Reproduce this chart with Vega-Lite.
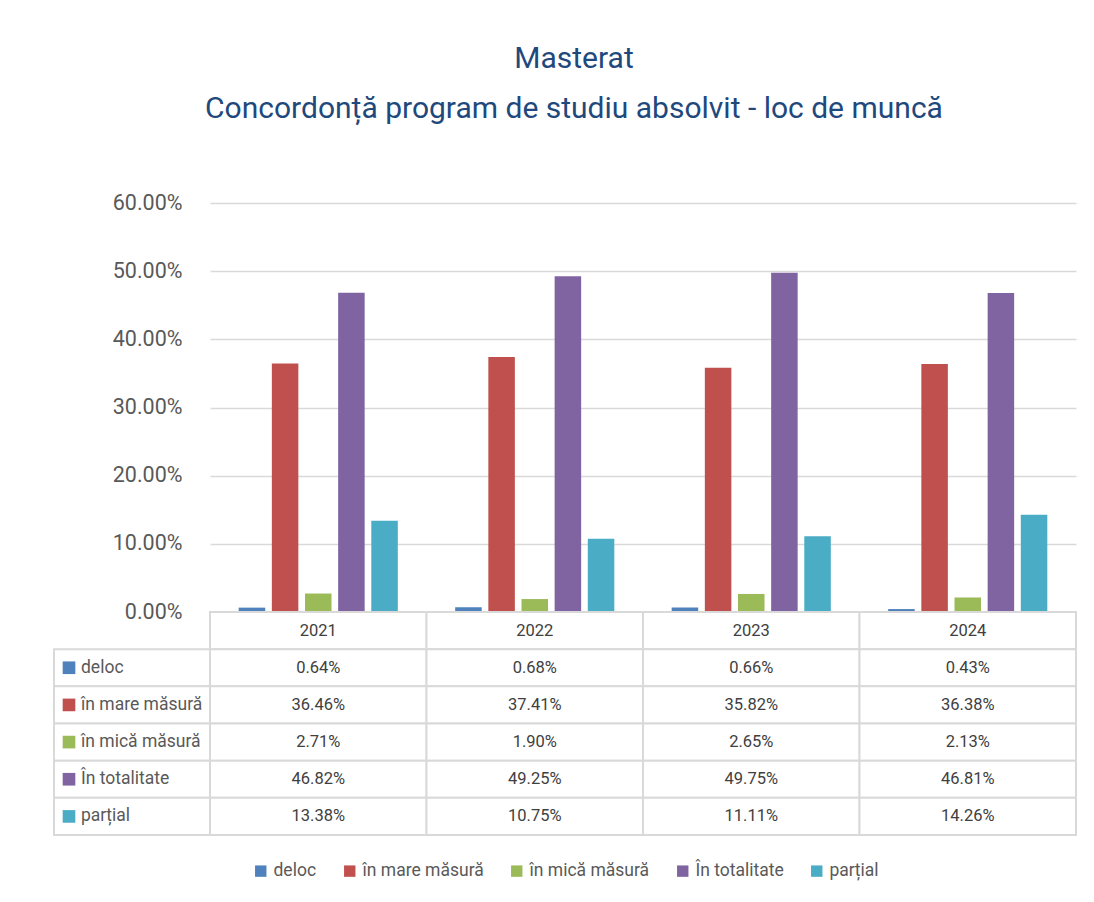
{
  "$schema": "https://vega.github.io/schema/vega-lite/v6.json",
  "background": "white",
  "padding": {"left": 53, "top": 44, "right": 16, "bottom": 10},
  "title": {
    "text": ["Masterat", "Concordonță program de studiu absolvit - loc de muncă"],
    "font": "Roboto",
    "fontSize": 30,
    "fontWeight": "normal",
    "color": "#1F497D",
    "lineHeight": 50,
    "anchor": "middle",
    "dx": 9,
    "offset": 68
  },
  "datasets": {
    "values": [
      {"year": "2021", "series": "deloc", "value": 0.0064},
      {"year": "2021", "series": "în mare măsură", "value": 0.3646},
      {"year": "2021", "series": "în mică măsură", "value": 0.0271},
      {"year": "2021", "series": "În totalitate", "value": 0.4682},
      {"year": "2021", "series": "parțial", "value": 0.1338},
      {"year": "2022", "series": "deloc", "value": 0.0068},
      {"year": "2022", "series": "în mare măsură", "value": 0.3741},
      {"year": "2022", "series": "în mică măsură", "value": 0.019},
      {"year": "2022", "series": "În totalitate", "value": 0.4925},
      {"year": "2022", "series": "parțial", "value": 0.1075},
      {"year": "2023", "series": "deloc", "value": 0.0066},
      {"year": "2023", "series": "în mare măsură", "value": 0.3582},
      {"year": "2023", "series": "în mică măsură", "value": 0.0265},
      {"year": "2023", "series": "În totalitate", "value": 0.4975},
      {"year": "2023", "series": "parțial", "value": 0.1111},
      {"year": "2024", "series": "deloc", "value": 0.0043},
      {"year": "2024", "series": "în mare măsură", "value": 0.3638},
      {"year": "2024", "series": "în mică măsură", "value": 0.0213},
      {"year": "2024", "series": "În totalitate", "value": 0.4681},
      {"year": "2024", "series": "parțial", "value": 0.1426}
    ],
    "years": [
      {"year": "2021"},
      {"year": "2022"},
      {"year": "2023"},
      {"year": "2024"}
    ],
    "series": [
      {"series": "deloc"},
      {"series": "în mare măsură"},
      {"series": "în mică măsură"},
      {"series": "În totalitate"},
      {"series": "parțial"}
    ]
  },
  "columns": 2,
  "spacing": 0,
  "bounds": "flush",
  "concat": [
    {
      "width": 156,
      "height": 409,
      "data": {"values": []},
      "mark": "point",
      "encoding": {}
    },
    {
      "width": 866,
      "height": 409,
      "data": {"name": "values"},
      "mark": {"type": "bar"},
      "encoding": {
        "x": {
          "field": "year",
          "type": "nominal",
          "scale": {"paddingInner": 0.265, "paddingOuter": 0.1325},
          "axis": null
        },
        "xOffset": {
          "field": "series",
          "type": "nominal",
          "sort": ["deloc", "în mare măsură", "în mică măsură", "În totalitate", "parțial"],
          "scale": {"paddingInner": 0.2, "paddingOuter": 0}
        },
        "y": {
          "field": "value",
          "type": "quantitative",
          "scale": {"domain": [0, 0.6], "nice": false},
          "axis": {
            "values": [0, 0.1, 0.2, 0.3, 0.4, 0.5, 0.6],
            "format": ".2%",
            "domain": false,
            "ticks": false,
            "tickSize": 0,
            "labelPadding": 28,
            "labelFontSize": 21.5,
            "labelColor": "#595959",
            "gridColor": "#D9D9D9",
            "gridWidth": 1.5,
            "title": null
          }
        },
        "color": {
          "field": "series",
          "type": "nominal",
          "sort": ["deloc", "în mare măsură", "în mică măsură", "În totalitate", "parțial"],
          "scale": {
            "domain": ["deloc", "în mare măsură", "în mică măsură", "În totalitate", "parțial"],
            "range": ["#4F81BD", "#C0504D", "#9BBB59", "#8064A2", "#4BACC6"]
          },
          "legend": {
            "orient": "bottom",
            "direction": "horizontal",
            "title": null,
            "symbolType": "square",
            "symbolSize": 130,
            "symbolStrokeWidth": 0,
            "labelFontSize": 17.5,
            "labelColor": "#595959",
            "labelOffset": 4,
            "columnPadding": 24,
            "offset": 26
          }
        }
      }
    },
    {
      "width": 156,
      "height": 223,
      "data": {"name": "series"},
      "encoding": {
        "y": {
          "field": "series",
          "type": "nominal",
          "scale": {
            "domain": ["anul", "deloc", "în mare măsură", "în mică măsură", "În totalitate", "parțial"],
            "paddingInner": 0,
            "paddingOuter": 0
          },
          "axis": null
        }
      },
      "layer": [
        {
          "mark": {"type": "rect", "fill": "white", "stroke": "#D9D9D9", "strokeWidth": 2}
        },
        {
          "mark": {"type": "point", "shape": "square", "filled": true, "size": 160, "opacity": 1},
          "encoding": {
            "x": {
              "datum": "key",
              "type": "nominal",
              "scale": {"type": "point", "domain": ["key", "label"], "range": [15, 27], "padding": 0},
              "axis": null
            },
            "color": {
              "field": "series",
              "type": "nominal"
            }
          }
        },
        {
          "mark": {"type": "text", "align": "left", "fontSize": 17.5, "color": "#595959"},
          "encoding": {
            "x": {"datum": "label", "type": "nominal"},
            "text": {"field": "series"}
          }
        }
      ]
    },
    {
      "width": 866,
      "height": 223,
      "encoding": {
        "x": {
          "field": "year",
          "type": "nominal",
          "scale": {"paddingInner": 0, "paddingOuter": 0},
          "axis": null
        }
      },
      "layer": [
        {
          "data": {"name": "years"},
          "mark": {"type": "rect", "fill": "white", "stroke": "#D9D9D9", "strokeWidth": 2},
          "encoding": {
            "y": {
              "datum": "anul",
              "type": "nominal",
              "scale": {
                "domain": ["anul", "deloc", "în mare măsură", "în mică măsură", "În totalitate", "parțial"],
                "paddingInner": 0,
                "paddingOuter": 0
              },
              "axis": null
            }
          }
        },
        {
          "data": {"name": "years"},
          "mark": {"type": "text", "fontSize": 16.5, "color": "#404040"},
          "encoding": {
            "y": {"datum": "anul", "type": "nominal"},
            "text": {"field": "year"}
          }
        },
        {
          "data": {"name": "values"},
          "mark": {"type": "rect", "fill": "white", "stroke": "#D9D9D9", "strokeWidth": 2},
          "encoding": {
            "y": {"field": "series", "type": "nominal"}
          }
        },
        {
          "data": {"name": "values"},
          "mark": {"type": "text", "fontSize": 16.5, "color": "#404040"},
          "encoding": {
            "y": {"field": "series", "type": "nominal"},
            "text": {"field": "value", "type": "quantitative", "format": ".2%"}
          }
        }
      ]
    }
  ],
  "config": {
    "font": "Roboto",
    "view": {"stroke": null},
    "legend": {"layout": {"bottom": {"anchor": "middle"}}}
  }
}
